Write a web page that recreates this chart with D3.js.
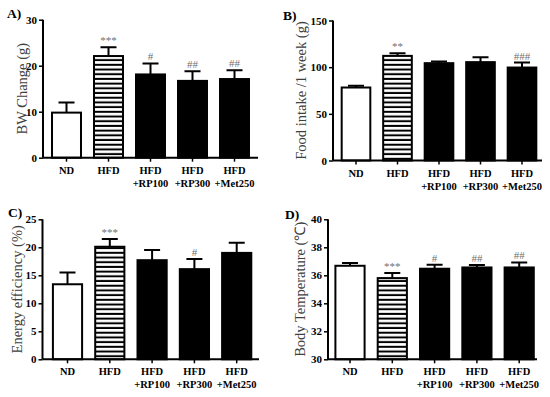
<!DOCTYPE html>
<html>
<head>
<meta charset="utf-8">
<script src="https://cdn.jsdelivr.net/npm/d3@7"></script>
<style>
  body { margin: 0; background: #fff; }
  text { font-family: "Liberation Serif", "Times New Roman", serif; }
</style>
</head>
<body>
<div id="container"></div>
<script>
/* DATA */
const groups = ["ND", "HFD", "HFD+RP100", "HFD+RP300", "HFD+Met250"];
const groupLines = [["ND"], ["HFD"], ["HFD", "+RP100"], ["HFD", "+RP300"], ["HFD", "+Met250"]];

const bwMean = [9.8, 22.1, 18.1, 16.7, 17.1];
const bwSem = [2.2, 1.9, 2.4, 2.1, 1.9];
const bwSig = ["", "***", "#", "##", "##"];
const bwTicks = [0, 10, 20, 30];

const foodMean = [78.2, 112.1, 104.3, 105.4, 99.6];
const foodSem = [2.0, 2.9, 1.8, 5.3, 5.4];
const foodSig = ["", "**", "", "", "###"];
const foodTicks = [0, 50, 100, 150];

const eeMean = [13.4, 20.1, 17.7, 16.1, 19.0];
const eeSem = [2.1, 1.4, 1.8, 1.8, 1.8];
const eeSig = ["", "***", "", "#", ""];
const eeTicks = [0, 5, 10, 15, 20, 25];

const tempMean = [36.68, 35.8, 36.47, 36.56, 36.56];
const tempSem = [0.19, 0.36, 0.28, 0.17, 0.36];
const tempSig = ["", "***", "#", "##", "##"];
const tempTicks = [30, 32, 34, 36, 38, 40];

/* SVG */
const width = 550, height = 397;
const svg = d3.select("#container").append("svg")
  .attr("width", width)
  .attr("height", height);

svg.append("rect").attr("width", width).attr("height", height).attr("fill", "#fff");

// stripes for HFD bar
svg.append("defs").append("pattern")
  .attr("id", "stripes")
  .attr("patternUnits", "userSpaceOnUse")
  .attr("width", 6).attr("height", 4.7)
  .call(p => {
    p.append("rect").attr("width", 6).attr("height", 4.7).attr("fill", "#fff");
    p.append("rect").attr("y", 2.7).attr("width", 6).attr("height", 2).attr("fill", "#000");
  });

const fills = ["#fff", "url(#stripes)", "#000", "#000", "#000"];

function drawPanel(cfg) {
  const g = svg.append("g");

  const x = d3.scaleBand()
    .domain(groups)
    .range([cfg.c0 - cfg.step / 2, cfg.c0 + cfg.step * 4.5])
    .paddingInner(0.31)
    .paddingOuter(0.155);

  const y = d3.scaleLinear()
    .domain(cfg.domain)
    .range([cfg.yBottom, cfg.yTop]);

  // bars
  g.selectAll("rect.bar")
    .data(cfg.mean)
    .join("rect")
    .attr("class", "bar")
    .attr("x", (d, i) => x(groups[i]))
    .attr("y", d => y(d))
    .attr("width", x.bandwidth())
    .attr("height", d => y(cfg.domain[0]) - y(d))
    .attr("fill", (d, i) => fills[i])
    .attr("stroke", "#000")
    .attr("stroke-width", 2);

  // error bars
  const cap = 8;
  g.selectAll("path.err")
    .data(cfg.mean)
    .join("path")
    .attr("class", "err")
    .attr("d", (d, i) => {
      const cx = x(groups[i]) + x.bandwidth() / 2;
      const top = y(d + cfg.sem[i]);
      return `M${cx},${y(d)}V${top}M${cx - cap},${top}H${cx + cap}`;
    })
    .attr("fill", "none")
    .attr("stroke", "#000")
    .attr("stroke-width", 2);

  // significance
  g.selectAll("text.sig")
    .data(cfg.sig)
    .join("text")
    .attr("class", "sig")
    .attr("x", (d, i) => x(groups[i]) + x.bandwidth() / 2)
    .attr("y", (d, i) => y(cfg.mean[i] + cfg.sem[i]) - 3)
    .attr("text-anchor", "middle")
    .attr("font-size", 11)
    .attr("fill", "#707070")
    .text(d => d);

  // y axis
  const yAxis = d3.axisLeft(y).tickValues(cfg.ticks).tickSize(4).tickPadding(2);
  g.append("g")
    .attr("transform", `translate(${cfg.ax},0)`)
    .call(yAxis)
    .call(a => a.select(".domain").attr("stroke-width", 2).attr("d", `M0,${cfg.yTop}V${cfg.yBottom}`))
    .call(a => a.selectAll(".tick line").attr("stroke-width", 1.5))
    .call(a => a.selectAll(".tick text")
      .attr("font-weight", "bold")
      .attr("font-size", 11)
      .attr("fill", "#000"));

  // x axis
  const xAxis = d3.axisBottom(x).tickSize(4).tickFormat("");
  g.append("g")
    .attr("transform", `translate(0,${cfg.yBottom})`)
    .call(xAxis)
    .call(a => a.select(".domain").attr("stroke-width", 2).attr("d", `M${cfg.ax},0H${cfg.xEnd}`))
    .call(a => a.selectAll(".tick line").attr("stroke-width", 1.5));

  // category labels
  groupLines.forEach((lines, i) => {
    const t = g.append("text")
      .attr("x", x(groups[i]) + x.bandwidth() / 2)
      .attr("y", cfg.yBottom + 16)
      .attr("text-anchor", "middle")
      .attr("font-weight", "bold")
      .attr("font-size", 10.5)
      .attr("fill", "#000");
    lines.forEach((l, j) => {
      t.append("tspan")
        .attr("x", x(groups[i]) + x.bandwidth() / 2)
        .attr("dy", j === 0 ? 0 : 13)
        .text(l);
    });
  });

  // y title
  g.append("text")
    .attr("transform", `translate(${cfg.titleX},${(cfg.yTop + cfg.yBottom) / 2}) rotate(-90)`)
    .attr("text-anchor", "middle")
    .attr("font-size", 14.5)
    .attr("fill", "#404040")
    .text(cfg.title);

  // panel letter
  g.append("text")
    .attr("x", cfg.letterX)
    .attr("y", cfg.letterY)
    .attr("font-weight", "bold")
    .attr("font-size", 13.5)
    .attr("fill", "#000")
    .text(cfg.letter);
}

drawPanel({ letter: "A)", letterX: 7, letterY: 18, title: "BW Change (g)", titleX: 26.5,
  ax: 43, xEnd: 258, c0: 66.5, step: 42, yTop: 19.7, yBottom: 157.7, domain: [0, 30],
  ticks: bwTicks, mean: bwMean, sem: bwSem, sig: bwSig });

drawPanel({ letter: "B)", letterX: 283, letterY: 20, title: "Food intake /1 week (g)", titleX: 305.5,
  ax: 333, xEnd: 542, c0: 356, step: 41.5, yTop: 20.5, yBottom: 160.5, domain: [0, 150],
  ticks: foodTicks, mean: foodMean, sem: foodSem, sig: foodSig });

drawPanel({ letter: "C)", letterX: 8, letterY: 217, title: "Energy efficiency (%)", titleX: 22,
  ax: 42.5, xEnd: 259, c0: 67.5, step: 42.3, yTop: 219.3, yBottom: 359.3, domain: [0, 25],
  ticks: eeTicks, mean: eeMean, sem: eeSem, sig: eeSig });

drawPanel({ letter: "D)", letterX: 285, letterY: 219, title: "Body Temperature (℃)", titleX: 305,
  ax: 328, xEnd: 537, c0: 350, step: 42.3, yTop: 219.3, yBottom: 359.3, domain: [30, 40],
  ticks: tempTicks, mean: tempMean, sem: tempSem, sig: tempSig });
</script>
</body>
</html>
